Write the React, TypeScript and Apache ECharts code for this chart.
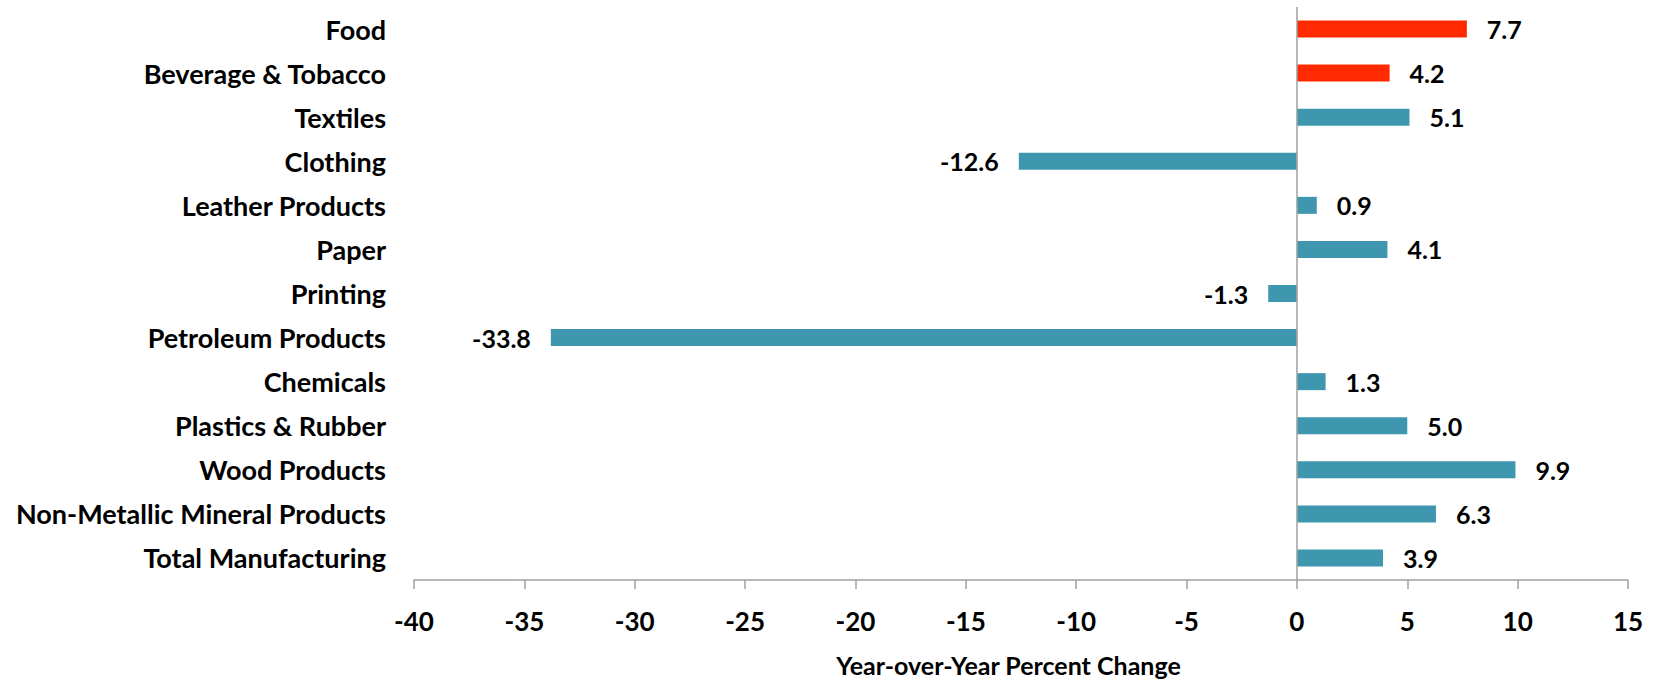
import React, { useEffect, useRef } from "react";
import * as echarts from "echarts";

const categories = [
  "Food",
  "Beverage & Tobacco",
  "Textiles",
  "Clothing",
  "Leather Products",
  "Paper",
  "Printing",
  "Petroleum Products",
  "Chemicals",
  "Plastics & Rubber",
  "Wood Products",
  "Non-Metallic Mineral Products",
  "Total Manufacturing",
];
const values = [7.7, 4.2, 5.1, -12.6, 0.9, 4.1, -1.3, -33.8, 1.3, 5.0, 9.9, 6.3, 3.9];
const highlighted = ["Food", "Beverage & Tobacco"];
const axisTitle = "Year-over-Year Percent Change";

const FONT = "Lato, 'Open Sans', sans-serif";
const RED = "#FF2A00";
const TEAL = "#3E97AE";

export default function App() {
  const ref = useRef<HTMLDivElement>(null);
  useEffect(() => {
    document.body.style.margin = "0";
    const chart = echarts.init(ref.current!, null, { renderer: "svg" });
    chart.setOption({
      animation: false,
      backgroundColor: "#fff",
      grid: { left: 414, right: 27, top: 7, bottom: 98, containLabel: false },
      xAxis: {
        type: "value",
        min: -40,
        max: 15,
        interval: 5,
        splitLine: { show: false },
        axisLine: { show: true, onZero: false, lineStyle: { color: "#A0A0A0", width: 1.5 } },
        axisTick: { show: true, length: 9, lineStyle: { color: "#A0A0A0", width: 1.5 } },
        axisLabel: { color: "#000", fontFamily: FONT, fontWeight: "bold", fontSize: 26, margin: 28 },
        name: axisTitle,
        nameLocation: "middle",
        nameGap: 72,
        nameTextStyle: { color: "#000", fontFamily: FONT, fontWeight: "bold", fontSize: 25, padding: [0, 25, 0, 0] },
      },
      yAxis: {
        type: "category",
        data: categories,
        inverse: true,
        axisLine: { show: false },
        axisTick: { show: false },
        axisLabel: { color: "#000", fontFamily: FONT, fontWeight: "bold", fontSize: 27, margin: 28 },
      },
      series: [
        {
          type: "bar",
          barWidth: 17,
          data: values.map((v, i) => ({
            value: v,
            itemStyle: { color: highlighted.includes(categories[i]) ? RED : TEAL },
            label: { position: v >= 0 ? "right" : "left" },
          })),
          label: {
            show: true,
            distance: 20,
            color: "#000",
            fontFamily: FONT,
            fontWeight: "bold",
            fontSize: 25,
            formatter: (p: any) => Number(p.value).toFixed(1),
          },
          markLine: {
            silent: true,
            symbol: "none",
            label: { show: false },
            lineStyle: { color: "#A0A0A0", type: "solid", width: 1.5 },
            data: [{ xAxis: 0 }],
          },
        },
      ],
    });
    return () => chart.dispose();
  }, []);
  return <div ref={ref} style={{ width: 1655, height: 682 }} />;
}
